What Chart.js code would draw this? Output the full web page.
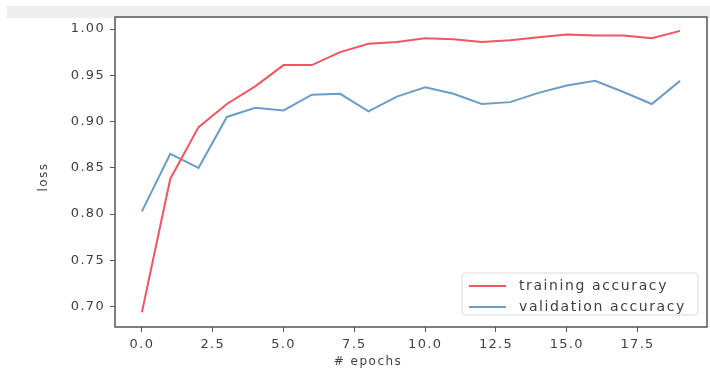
<!DOCTYPE html>
<html>
<head>
<meta charset="utf-8">
<script src="https://cdn.jsdelivr.net/npm/chart.js@4"></script>
<style>
  html, body { margin: 0; padding: 0; background: #fff; }
  #wrap { position: relative; width: 710px; height: 369px; overflow: hidden; }
  #band { position: absolute; left: 7px; top: 6px; width: 703px; height: 12px; background: #eeeeee; }
  canvas { position: absolute; left: 0; top: 0; }
</style>
</head>
<body>
<div id="wrap">
  <div id="band"></div>
  <canvas id="graphique" width="710" height="369"></canvas>
</div>
<script>
const epochs = [0, 1, 2, 3, 4, 5, 6, 7, 8, 9, 10, 11, 12, 13, 14, 15, 16, 17, 18, 19];
const trainingAcc = [0.694, 0.838, 0.894, 0.919, 0.938, 0.961, 0.961, 0.975, 0.984, 0.986,
                     0.990, 0.989, 0.986, 0.988, 0.991, 0.994, 0.993, 0.993, 0.990, 0.998];
const validationAcc = [0.803, 0.865, 0.850, 0.905, 0.915, 0.912, 0.929, 0.930, 0.911, 0.927,
                       0.937, 0.930, 0.919, 0.921, 0.931, 0.939, 0.944, 0.932, 0.919, 0.944];
const xTicks = [0, 2.5, 5, 7.5, 10, 12.5, 15, 17.5];
const yTicks = [0.70, 0.75, 0.80, 0.85, 0.90, 0.95, 1.00];
const xTitle = '# epochs';
const yTitle = 'loss';

const font = "'DejaVu Sans', sans-serif";
const textColor = '#3f3f3f';

// texte un peu plus large, comme sur la capture d'origine
const espacement = {
  id: 'espacement',
  beforeUpdate(chart) { chart.ctx.letterSpacing = '1.3px'; },
  beforeDraw(chart) { chart.ctx.letterSpacing = '1.3px'; }
};

// cadre autour de la zone du graphique + titres des axes
const cadre = {
  id: 'cadre',
  afterDatasetsDraw(chart) {
    const { ctx, chartArea: a } = chart;
    ctx.save();
    ctx.strokeStyle = '#555';
    ctx.lineWidth = 1.5;
    ctx.strokeRect(a.left, a.top, a.right - a.left, a.bottom - a.top);

    ctx.fillStyle = textColor;
    ctx.font = '12px ' + font;
    ctx.letterSpacing = '1.5px';
    ctx.textAlign = 'center';
    ctx.textBaseline = 'middle';
    ctx.fillText(xTitle, 368, 362);
    ctx.translate(44, 177);
    ctx.rotate(-Math.PI / 2);
    ctx.fillText(yTitle, 0, 0);
    ctx.restore();
  }
};

// légende dans le coin bas droit, comme matplotlib
const legendeInterne = {
  id: 'legendeInterne',
  afterDraw(chart) {
    const { ctx, chartArea: a } = chart;
    const w = 236, h = 42;
    const x0 = a.right - 9 - w, y0 = a.bottom - 12 - h;
    ctx.save();
    ctx.fillStyle = 'rgba(255,255,255,0.9)';
    ctx.strokeStyle = '#d8d8d8';
    ctx.lineWidth = 1;
    ctx.beginPath();
    ctx.roundRect(x0, y0, w, h, 3);
    ctx.fill();
    ctx.stroke();
    ctx.font = '14px ' + font;
    ctx.letterSpacing = '1.6px';
    ctx.textBaseline = 'middle';
    chart.data.datasets.forEach((ds, i) => {
      const y = y0 + 13 + i * 21;
      ctx.strokeStyle = ds.borderColor;
      ctx.lineWidth = 2;
      ctx.beginPath();
      ctx.moveTo(x0 + 7, y);
      ctx.lineTo(x0 + 44, y);
      ctx.stroke();
      ctx.fillStyle = textColor;
      ctx.fillText(ds.label, x0 + 57, y);
    });
    ctx.restore();
  }
};

const ctx = document.getElementById('graphique').getContext('2d');
window.myChart = new Chart(ctx, {
  type: 'line',
  data: {
    datasets: [{
      label: 'training accuracy',
      data: epochs.map((e, i) => ({ x: e, y: trainingAcc[i] })),
      borderColor: '#ef5661',
      borderWidth: 2,
      pointRadius: 0,
      tension: 0
    }, {
      label: 'validation accuracy',
      data: epochs.map((e, i) => ({ x: e, y: validationAcc[i] })),
      borderColor: '#6b9dc6',
      borderWidth: 2,
      pointRadius: 0,
      tension: 0
    }]
  },
  options: {
    responsive: false,
    animation: false,
    devicePixelRatio: 1,
    layout: { padding: { top: 17, right: 3, left: 0, bottom: 0 } },
    plugins: {
      legend: { display: false },
      tooltip: { enabled: false }
    },
    scales: {
      x: {
        type: 'linear',
        min: -0.95,
        max: 19.95,
        afterBuildTicks: axis => { axis.ticks = xTicks.map(v => ({ value: v })); },
        afterFit: axis => { axis.height = 42; },
        ticks: {
          callback: v => v.toFixed(1),
          font: { family: font, size: 13 },
          color: textColor,
          padding: 5,
          maxRotation: 0,
          autoSkip: false
        },
        grid: { drawOnChartArea: false, drawTicks: true, tickLength: 5, color: '#555' },
        border: { display: false }
      },
      y: {
        type: 'linear',
        min: 0.678,
        max: 1.013,
        afterBuildTicks: axis => { axis.ticks = yTicks.map(v => ({ value: v })); },
        afterFit: axis => { axis.width = 115; },
        ticks: {
          callback: v => v.toFixed(2),
          font: { family: font, size: 13 },
          color: textColor,
          padding: 5,
          autoSkip: false
        },
        grid: { drawOnChartArea: false, drawTicks: true, tickLength: 5, color: '#555' },
        border: { display: false }
      }
    }
  },
  plugins: [espacement, cadre, legendeInterne]
});
</script>
</body>
</html>
